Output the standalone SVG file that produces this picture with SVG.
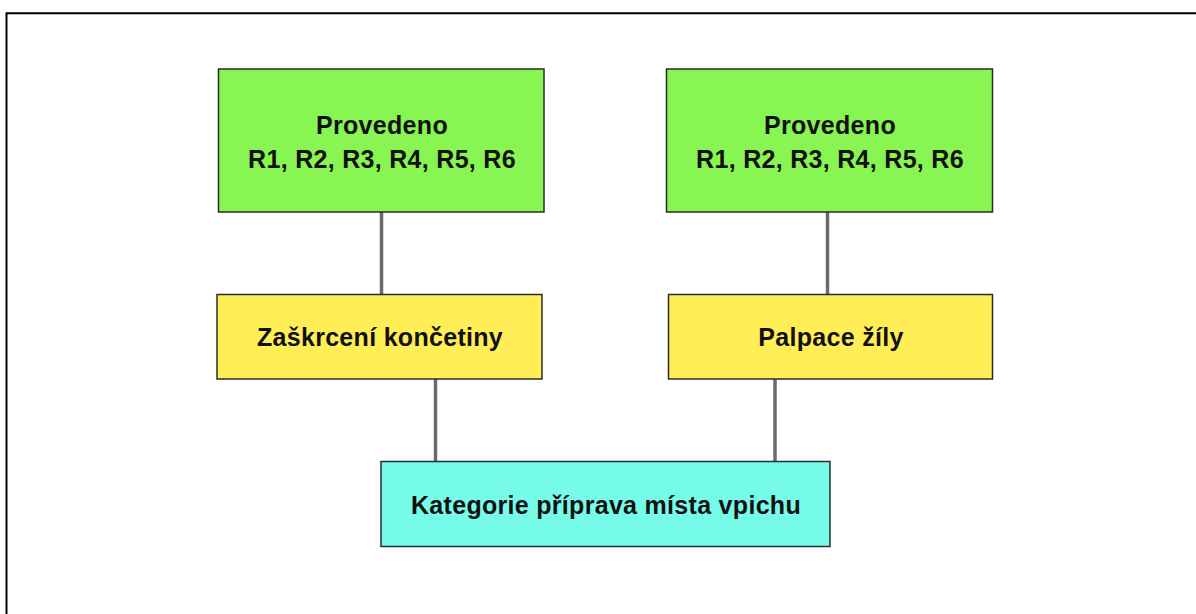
<svg xmlns="http://www.w3.org/2000/svg" width="1196" height="614" viewBox="0 0 1196 614">
<style>
.box{stroke:#2b2b2b;stroke-width:1.5}
.g{fill:#88f552}
.y{fill:#ffee55}
.c{fill:#76fbe9}
.t{font-family:"Liberation Sans",Arial,sans-serif;font-weight:bold;font-size:25px;letter-spacing:0.3px;fill:#111;text-anchor:middle}
.conn{stroke:#6b6b6b;stroke-width:3.5;fill:none}
</style>
<rect x="0" y="0" width="1196" height="614" fill="#ffffff"/>
<path d="M1196 13.3 H6.5 V614" fill="none" stroke="#000" stroke-width="2"/>
<g id="connectors">
<line class="conn" x1="381.5" y1="212" x2="381.5" y2="294"/>
<line class="conn" x1="827.5" y1="212" x2="827.5" y2="294"/>
<line class="conn" x1="435.5" y1="379" x2="435.5" y2="461"/>
<line class="conn" x1="775" y1="379" x2="775" y2="461"/>
</g>
<g id="node-provedeno-left">
<rect class="box g" x="218.5" y="69" width="325.5" height="143"/>
<text class="t" x="382" y="134">Provedeno</text>
<text class="t" x="382" y="168">R1, R2, R3, R4, R5, R6</text>
</g>
<g id="node-provedeno-right">
<rect class="box g" x="666.5" y="69" width="326" height="143"/>
<text class="t" x="830" y="134">Provedeno</text>
<text class="t" x="830" y="168">R1, R2, R3, R4, R5, R6</text>
</g>
<g id="node-zaskrceni">
<rect class="box y" x="217" y="294.5" width="325" height="84.5"/>
<text class="t" x="380" y="346">Zaškrcení končetiny</text>
</g>
<g id="node-palpace">
<rect class="box y" x="668.5" y="294.5" width="324" height="84.5"/>
<text class="t" x="831" y="346">Palpace žíly</text>
</g>
<g id="node-kategorie">
<rect class="box c" x="381" y="461.5" width="449" height="85"/>
<text class="t" x="606" y="514">Kategorie příprava místa vpichu</text>
</g>
</svg>
